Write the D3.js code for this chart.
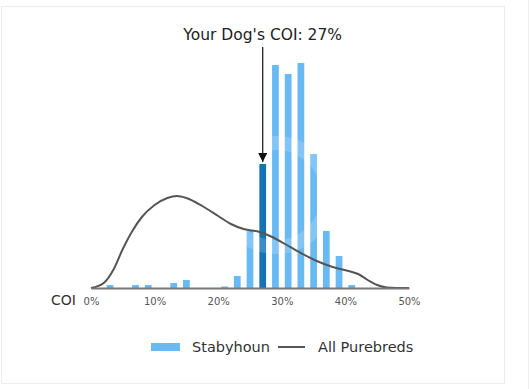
<!DOCTYPE html>
<html><head><meta charset="utf-8">
<script src="https://cdn.jsdelivr.net/npm/d3@7"></script>
<style>body{margin:0;background:#fff}svg{display:block;font-family:"DejaVu Sans",sans-serif}</style>
</head><body><svg id="c" width="530" height="389"></svg>
<script>
// Breed histogram (bin centres in % COI, bar heights in relative units)
const binCenters = [3, 7, 9, 13, 15, 21, 23, 25, 27, 29, 31, 33, 35, 37, 39, 41];
const breedValues = [3, 3, 3, 5, 8, 1.5, 12, 57, 124, 223, 214, 225, 134, 57, 32, 3];
const yourDogCOI = 27;
// All purebreds density curve (x in % COI, relative height)
const curveX = [0, 2, 3.5, 5, 6.5, 8, 10, 12, 13.5, 15, 17.5, 20, 22, 24, 26.5, 28.5, 30.5, 33, 35.5, 38, 40.5, 42, 43.5, 45, 46.5, 48, 50];
const curveY = [0, 5, 18, 39, 57, 71, 83, 90, 92, 90, 82, 72, 64, 59, 56, 51, 44, 35, 27, 21, 17, 14, 8, 3, 0.5, 0, 0];
const xTicks = [0, 10, 20, 30, 40, 50];
const legendLabels = ["Stabyhoun", "All Purebreds"];

const svg = d3.select("#c");
// frame
svg.append("rect").attr("x", 1.5).attr("y", 6.5).attr("width", 503).attr("height", 377)
  .attr("fill", "none").attr("stroke", "#ececec");
svg.append("line").attr("x1", 528.5).attr("x2", 528.5).attr("y1", 0).attr("y2", 389).attr("stroke", "#f0f0f0");

const x = d3.scaleLinear().domain([0, 50]).range([91, 409]);
const y = d3.scaleLinear().domain([0, 240]).range([288, 48]);
const binHalf = 0.53;

svg.append("g").selectAll("rect").data(binCenters).join("rect")
  .attr("x", (d) => x(d - binHalf))
  .attr("width", (d) => x(d + binHalf) - x(d - binHalf))
  .attr("y", (d, i) => y(breedValues[i]))
  .attr("height", (d, i) => y(0) - y(breedValues[i]))
  .attr("fill", (d) => d === yourDogCOI ? "#1573b2" : "#68baf4");

// faint watermark ring
svg.append("circle").attr("cx", 276).attr("cy", 195).attr("r", 52)
  .attr("fill", "none").attr("stroke", "#fff").attr("stroke-opacity", 0.18).attr("stroke-width", 14);

// density curve
const line = d3.line().x((d, i) => x(curveX[i])).y((d) => y(d)).curve(d3.curveMonotoneX);
svg.append("path").attr("d", line(curveY)).attr("fill", "none")
  .attr("stroke", "#555").attr("stroke-width", 2);

// axis
const axis = d3.axisBottom(x).tickValues(xTicks).tickFormat((d) => d + "%").tickSize(0).tickPadding(10);
const gA = svg.append("g").attr("transform", `translate(0,${y(0)})`).call(axis);
gA.select(".domain").attr("stroke", "#777").attr("stroke-width", 2);
gA.selectAll("text").attr("font-size", 10).attr("fill", "#555").attr("font-family", "DejaVu Sans");
svg.append("text").attr("x", 51).attr("y", 305).attr("font-size", 14).attr("fill", "#333").text("COI");

// annotation
svg.append("defs").append("marker").attr("id", "ah").attr("viewBox", "0 0 10 10")
  .attr("refX", 10).attr("refY", 5).attr("markerWidth", 9).attr("markerHeight", 9)
  .attr("markerUnits", "userSpaceOnUse").attr("orient", "auto")
  .append("path").attr("d", "M0,0L10,5L0,10z").attr("fill", "#111");
svg.append("line").attr("x1", x(yourDogCOI)).attr("x2", x(yourDogCOI))
  .attr("y1", 47).attr("y2", y(breedValues[binCenters.indexOf(yourDogCOI)]) - 2)
  .attr("stroke", "#111").attr("stroke-width", 1.2).attr("marker-end", "url(#ah)");
svg.append("text").attr("x", x(yourDogCOI)).attr("y", 40).attr("text-anchor", "middle")
  .attr("font-size", 15.5).attr("fill", "#222").text(`Your Dog's COI: ${yourDogCOI}%`);

// legend
const lg = svg.append("g");
lg.append("rect").attr("x", 151).attr("y", 343).attr("width", 29).attr("height", 8).attr("fill", "#68baf4");
lg.append("text").attr("x", 192).attr("y", 352).attr("font-size", 14.5).attr("fill", "#333").text(legendLabels[0]);
lg.append("line").attr("x1", 278).attr("x2", 305).attr("y1", 347).attr("y2", 347).attr("stroke", "#555").attr("stroke-width", 2);
lg.append("text").attr("x", 318).attr("y", 352).attr("font-size", 14.5).attr("fill", "#333").text(legendLabels[1]);
</script></body></html>
